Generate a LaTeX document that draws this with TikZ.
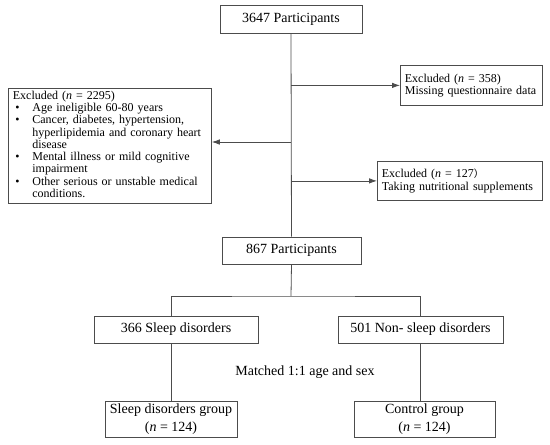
\documentclass[tikz,border=0pt]{standalone}
\usepackage{fontspec}
\setmainfont{Liberation Serif}
\newfontfamily\cjkfont{Noto Sans CJK SC}
\usetikzlibrary{arrows.meta}
\begin{document}
\begin{tikzpicture}[x=1pt,y=-1pt,
  box/.style={draw=black!70, line width=0.8pt, rectangle, inner sep=0pt,
    font=\fontsize{14}{18}\selectfont, align=center},
  exbox/.style={draw=black!70, line width=0.8pt, rectangle, inner xsep=4.5pt, inner ysep=0pt,
    font=\fontsize{12}{12.5}\selectfont, align=left, anchor=north west},
  conn/.style={draw=black!70, line width=0.8pt},
  arr/.style={conn, -{Latex[length=8pt,width=5.5pt]}}]
\useasboundingbox (0,0) rectangle (550,445);

% main boxes
\node[box, minimum width=142pt, minimum height=28pt] (top) at (291,19) {3647 Participants};
\node[box, minimum width=139pt, minimum height=27pt] (n867) at (291.5,250.5) {867 Participants};
\node[box, minimum width=164pt, minimum height=27pt] (s366) at (176,329.5) {366 Sleep disorders};
\node[box, minimum width=165pt, minimum height=27pt] (n501) at (420.5,329.5) {501 Non- sleep disorders};
\node[box, minimum width=132pt, minimum height=36pt] (sgrp) at (171,419) {Sleep disorders group\\(\textit{n} = 124)};
\node[box, minimum width=141pt, minimum height=36pt] (cgrp) at (424.5,419) {Control group\\(\textit{n} = 124)};
\node[font=\fontsize{14}{18}\selectfont] (match) at (305,372) {Matched 1:1 age and sex};

% exclusion boxes
\node[exbox, text width=133pt, minimum height=40pt] (ex358) at (400,65)
  {Excluded (\textit{n} = 358)\\Missing questionnaire data};
\node[exbox, text width=156pt, minimum height=39pt] (ex127) at (377,161)
  {Excluded (\textit{n} = 127{\cjkfont\fontsize{10}{12.5}\selectfont ）}\\Taking nutritional supplements};
\node[exbox, inner xsep=4.5pt, text width=194pt, minimum height=115pt] (ex2295) at (8,88)
  {\fontsize{12}{12.3}\selectfont
   \begin{tabular}{@{\hspace{2.5pt}}p{17pt}@{}l@{}}
   \multicolumn{2}{@{}l@{}}{Excluded (\textit{n} = 2295)}\\
   \textbullet & Age ineligible 60-80 years\\
   \textbullet & Cancer, diabetes, hypertension,\\
               & hyperlipidemia and coronary heart\\
               & disease\\
   \textbullet & Mental illness or mild cognitive\\
               & impairment\\
   \textbullet & Other serious or unstable medical\\
               & conditions.
   \end{tabular}};

% connectors
\coordinate (b2) at (291,142);
\coordinate (j) at (291,296);
\draw[conn] (top.south) -- (n867.north);
\draw[arr] (ex358.west -| top.south) -- (ex358.west);
\draw[arr] (b2) -- (b2 -| ex2295.east);
\draw[arr] (ex127.west -| top.south) -- (ex127.west);
\draw[conn] (n867.south) -- (j);
\draw[conn] (sgrp.north |- s366.north) |- (j) -| (n501.north);
\draw[conn] (sgrp.north |- s366.south) -- (sgrp.north);
\draw[conn] (n501.south) -- (n501.south |- cgrp.north);
\end{tikzpicture}
\end{document}
